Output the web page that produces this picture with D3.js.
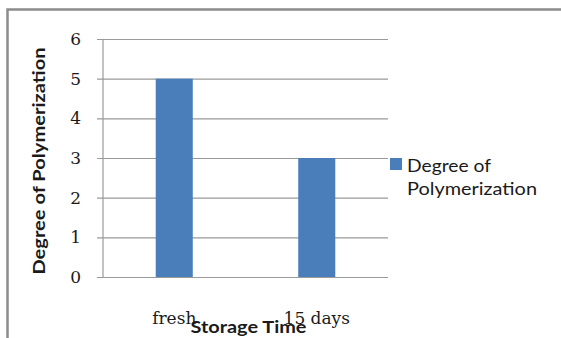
<!DOCTYPE html>
<html>
<head>
<meta charset="utf-8">
<script src="https://cdn.jsdelivr.net/npm/d3@7"></script>
<style>
  html, body { margin: 0; padding: 0; background: #fff; }
  svg { display: block; }
</style>
</head>
<body>
<svg id="chart" width="561" height="338"></svg>
<script>
// Degree of polymerization by storage time
const categories = ["fresh", "15 days"];
const seriesName = "Degree of Polymerization";
const values = [5, 3];
const yTicks = [0, 1, 2, 3, 4, 5, 6];
const xTitle = "Storage Time";
const yTitle = "Degree of Polymerization";

const svg = d3.select("#chart");
const W = 561, H = 338;
const plot = { left: 103, right: 388, top: 39, bottom: 277 };
const serif = "'DejaVu Serif', serif";
const sans = "Lato, 'Open Sans', sans-serif";

// outer frame (bottom edge runs past the canvas)
svg.append("rect")
  .attr("x", 7.5).attr("y", 9.5)
  .attr("width", W + 10).attr("height", H + 20)
  .attr("fill", "#fff")
  .attr("stroke", "#8c8c8c").attr("stroke-width", 2.5);

const x = d3.scaleBand().domain(categories)
  .range([plot.left, plot.right]).paddingInner(0.74).paddingOuter(0.37);
const y = d3.scaleLinear().domain([0, 6]).range([plot.bottom, plot.top]);

// y axis with gridlines drawn as full-width ticks
const yAxis = d3.axisLeft(y)
  .tickValues(yTicks)
  .tickSize(-(plot.right - plot.left))
  .tickSizeOuter(0)
  .tickPadding(22)
  .tickFormat(d3.format("d"));

const gy = svg.append("g")
  .attr("transform", `translate(${plot.left},0)`)
  .call(yAxis);
gy.select(".domain").remove();
gy.selectAll(".tick line")
  .attr("x1", -6)
  .attr("stroke", "#9a9a9a").attr("stroke-width", 1.2);
gy.selectAll(".tick text")
  .attr("font-family", serif)
  .attr("font-size", 17)
  .attr("fill", "#1a1a1a");

// vertical axis line
svg.append("line")
  .attr("x1", plot.left).attr("x2", plot.left)
  .attr("y1", plot.top).attr("y2", plot.bottom)
  .attr("stroke", "#9a9a9a").attr("stroke-width", 1.2);

// bars
svg.append("g").selectAll("rect")
  .data(values)
  .join("rect")
  .attr("x", (d, i) => x(categories[i]))
  .attr("width", x.bandwidth())
  .attr("y", d => y(d))
  .attr("height", d => y(0) - y(d))
  .attr("fill", "#4a7ebb");

// category labels
const xAxis = d3.axisBottom(x).tickSize(0).tickPadding(0);
const gx = svg.append("g")
  .attr("transform", `translate(0,${plot.bottom})`)
  .call(xAxis);
gx.select(".domain").remove();
gx.selectAll(".tick text")
  .attr("dy", null)
  .attr("y", 47)
  .attr("font-family", serif)
  .attr("font-size", 17)
  .attr("fill", "#1a1a1a");

// x axis title
svg.append("text")
  .attr("x", (plot.left + plot.right) / 2 + 3)
  .attr("y", 333)
  .attr("text-anchor", "middle")
  .attr("font-family", sans)
  .attr("font-weight", "bold")
  .attr("font-size", 17)
  .attr("textLength", 116).attr("lengthAdjust", "spacingAndGlyphs")
  .attr("fill", "#1a1a1a")
  .text(xTitle);

// y axis title
svg.append("text")
  .attr("transform", `translate(45,161) rotate(-90)`)
  .attr("text-anchor", "middle")
  .attr("font-family", sans)
  .attr("font-weight", "bold")
  .attr("font-size", 17)
  .attr("textLength", 227).attr("lengthAdjust", "spacingAndGlyphs")
  .attr("fill", "#1a1a1a")
  .text(yTitle);

// legend
const legend = svg.append("g").attr("transform", "translate(390,158)");
legend.append("rect")
  .attr("width", 12).attr("height", 12)
  .attr("fill", "#4a7ebb");
const words = seriesName.split(" ");
const lines = [words.slice(0, 2).join(" "), words.slice(2).join(" ")];
const lineWidths = [84, 130];
legend.selectAll("text.leg")
  .data(lines)
  .join("text")
  .attr("class", "leg")
  .attr("x", 17)
  .attr("y", (d, i) => 14 + i * 23)
  .attr("font-family", sans)
  .attr("font-size", 17.5)
  .attr("fill", "#1a1a1a")
  .attr("textLength", (d, i) => lineWidths[i])
  .attr("lengthAdjust", "spacingAndGlyphs")
  .text(d => d);
</script>
</body>
</html>
